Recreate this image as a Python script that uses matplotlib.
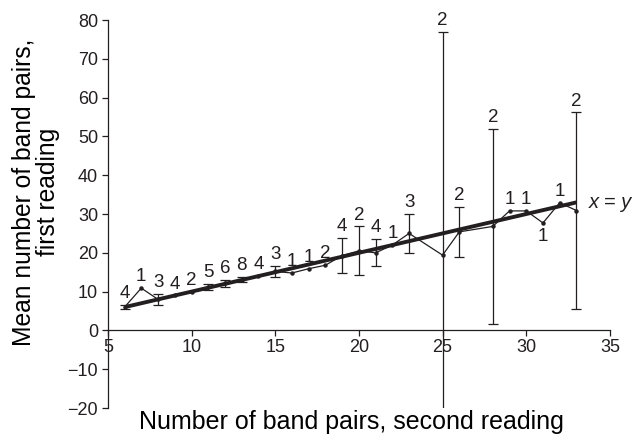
import matplotlib.pyplot as plt

plt.rcParams['font.family'] = ['Liberation Sans', 'DejaVu Sans']
plt.rcParams['text.color'] = '#231f20'
plt.rcParams['xtick.color'] = '#231f20'
plt.rcParams['ytick.color'] = '#231f20'

# number of band pairs at the second reading
second = [6, 7, 8, 9, 10, 11, 12, 13, 14, 15, 16, 17, 18, 19, 20, 21, 22, 23,
          25, 26, 28, 29, 30, 31, 32, 33]
# mean number at the first reading
first_mean = [6.0, 10.9, 8.0, 9.0, 10.0, 11.1, 12.1, 13.1, 14.0, 15.2, 14.8, 15.9,
              16.8, 19.3, 20.5, 20.0, 22.0, 25.0, 19.4, 25.4, 26.8, 30.8, 30.8,
              27.7, 32.9, 30.9]
# half width of the error bars (0 = none drawn)
err = [0.6, 0, 1.5, 0, 0, 0.8, 0.9, 0.6, 0, 1.5, 0, 0, 0, 4.6, 6.3, 3.5, 0, 5.0,
       57.6, 6.45, 25.2, 0, 0, 0, 0, 25.3]
# number of fish at each value
n_fish = [4, 1, 3, 4, 2, 5, 6, 8, 4, 3, 1, 1, 2, 4, 2, 4, 1, 3, 2, 2, 2, 1, 1, 1, 1, 2]
# labels drawn under the point instead of above
below = [31]

fig = plt.figure(figsize=(6.38, 4.4), dpi=100)
ax = fig.add_axes([0.169, 0.0727, 0.787, 0.8818])

# x = y reference line
ends = [second[0], second[-1]]
ax.plot(ends, ends, color='#231f20', lw=2.8, solid_capstyle='butt', zorder=3)

ax.plot(second, first_mean, color='#231f20', lw=0.9, marker='o', ms=2.2, zorder=2)

ex = [x for x, e in zip(second, err) if e > 0]
ey = [y for y, e in zip(first_mean, err) if e > 0]
ee = [e for e in err if e > 0]
ax.errorbar(ex, ey, yerr=ee, fmt='none', ecolor='#231f20', elinewidth=0.9,
            capsize=3.5, capthick=0.9, zorder=2)

for x, y, e, n in zip(second, first_mean, err, n_fish):
    if x in below:
        ax.annotate(str(n), (x, y - e), xytext=(0, -4), textcoords='offset points',
                    ha='center', va='top', fontsize=13.5, annotation_clip=False)
    else:
        ax.annotate(str(n), (x, y + e), xytext=(0, 2), textcoords='offset points',
                    ha='center', va='bottom', fontsize=13.5, annotation_clip=False)

ax.text(second[-1] + 0.75, second[-1], 'x = y', style='italic', fontsize=14.5,
        ha='left', va='center')

ax.set_xlim(5, 35)
ax.set_ylim(-20, 80)
ax.set_xticks(range(5, 36, 5))
ax.set_yticks(range(-20, 81, 10))
ax.spines['top'].set_visible(False)
ax.spines['right'].set_visible(False)
ax.spines['bottom'].set_position(('data', 0))
for s in ['left', 'bottom']:
    ax.spines[s].set_color('#231f20')
    ax.spines[s].set_linewidth(0.9)
ax.tick_params(labelsize=13, length=4, width=0.9, pad=2)
ax.tick_params(axis='y', pad=3)

ax.set_xlabel('Number of band pairs, second reading', fontsize=18)
ax.xaxis.set_label_coords(0.485, -0.004)
ax.set_ylabel('Mean number of band pairs,\nfirst reading', fontsize=17.7,
              linespacing=1.0)
ax.yaxis.set_label_coords(-0.096, 0.557)

fig.savefig('out.png', dpi=100)
